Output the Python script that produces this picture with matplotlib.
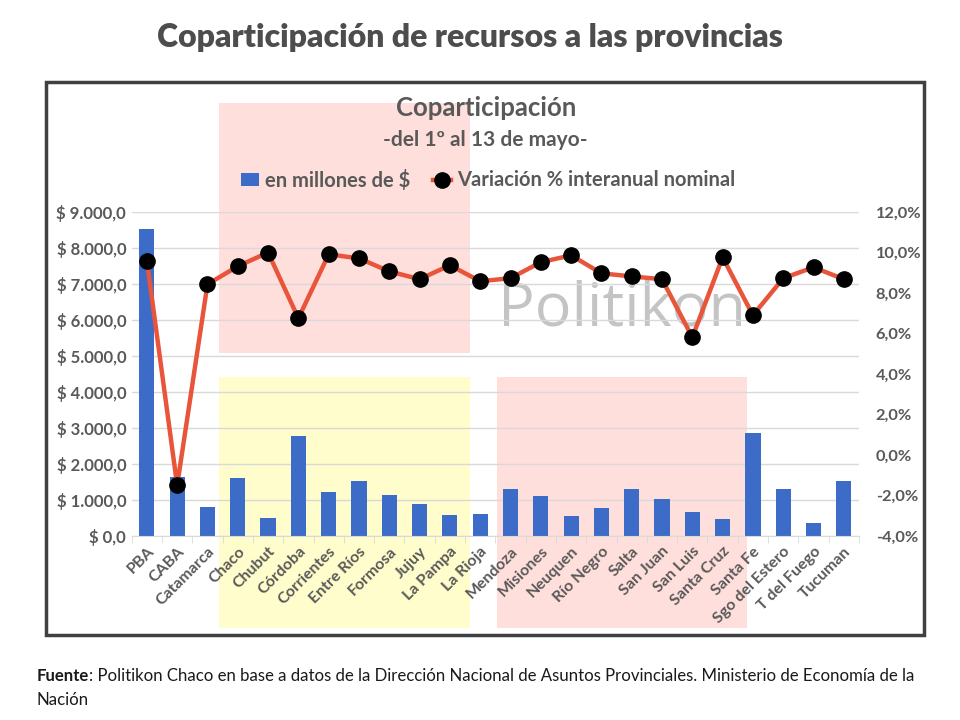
import matplotlib
matplotlib.use("Agg")
import matplotlib.pyplot as plt
import numpy as np
from matplotlib.patches import Rectangle, Patch
from matplotlib.lines import Line2D
from matplotlib.ticker import FuncFormatter, FixedLocator

provincias = ["PBA", "CABA", "Catamarca", "Chaco", "Chubut", "Córdoba",
              "Corrientes", "Entre Ríos", "Formosa", "Jujuy", "La Pampa",
              "La Rioja", "Mendoza", "Misiones", "Neuquen", "Río Negro",
              "Salta", "San Juan", "San Luis", "Santa Cruz", "Santa Fe",
              "Sgo del Estero", "T del Fuego", "Tucuman"]
millones = [8520, 1640, 806, 1620, 500, 2780, 1220, 1530, 1140, 890, 580,
            610, 1310, 1110, 560, 780, 1310, 1030, 670, 480, 2860, 1310,
            360, 1530]
variacion = [9.6, -1.5, 8.43, 9.32, 10.0, 6.75, 9.91, 9.71, 9.07, 8.68,
             9.37, 8.58, 8.73, 9.52, 9.86, 8.97, 8.82, 8.68, 5.81, 9.76,
             6.9, 8.73, 9.27, 8.68]

GRAY = "#595959"
W, H = 960, 720


def fx(px):
    return px / W


def fy(py):
    return 1 - py / H


def pesos(v, _):
    s = f"{v:,.1f}".replace(",", "X").replace(".", ",").replace("X", ".")
    return "$ " + s


def pct(v, _):
    return f"{v:.1f}%".replace(".", ",")


def main():
    plt.rcParams["font.family"] = ["Lato", "DejaVu Sans"]
    fig = plt.figure(figsize=(9.6, 7.2), dpi=100)

    # shaded regions behind the chart
    for (x0, y0, x1, y1, c) in [(219, 103, 470, 353, "#FFDFDC"),
                                (219, 377, 470, 628, "#FFFDCB"),
                                (497, 377, 747, 628, "#FFDFDC")]:
        fig.add_artist(Rectangle((fx(x0), fy(y1)), fx(x1 - x0),
                                 (y1 - y0) / H, transform=fig.transFigure,
                                 facecolor=c, edgecolor="none", zorder=-2))
    fig.text(fx(622), fy(309), "Politikon", fontsize=44, color="#C4C4C4",
             ha="center", va="center", family="Open Sans", zorder=-1)

    # outer frame
    fig.add_artist(Rectangle((fx(46), fy(635)), fx(878), 553 / H,
                             transform=fig.transFigure, fill=False,
                             edgecolor="#404040", linewidth=2.5))

    ax = fig.add_axes([fx(131.7), fy(536), fx(859 - 131.7), 324 / H])
    ax.set_facecolor("none")
    x = np.arange(len(provincias))
    ax.bar(x, millones, width=0.5, color="#3D6BC8", zorder=2)
    ax.set_xlim(-0.5, len(provincias) - 0.5)
    ax.set_ylim(0, 9000)
    ax.set_yticks(np.arange(0, 9001, 1000))
    ax.yaxis.set_major_formatter(FuncFormatter(pesos))
    ax.grid(axis="y", color="#D9D9D9", linewidth=1, zorder=0)
    ax.set_axisbelow(True)
    for s in ["top", "left", "right"]:
        ax.spines[s].set_visible(False)
    ax.spines["bottom"].set_color("#D9D9D9")
    ax.set_xticks(x)
    ax.set_xticklabels(provincias, rotation=45, ha="right",
                       rotation_mode="anchor", fontsize=11.5,
                       fontweight="bold", color=GRAY)
    ax.xaxis.set_minor_locator(FixedLocator(np.arange(-0.5, len(x), 1)))
    ax.tick_params(axis="x", which="major", length=0, pad=6)
    ax.tick_params(axis="x", which="minor", length=5, color="#D9D9D9")
    ax.tick_params(axis="y", length=0, labelsize=12, labelcolor=GRAY,
                   pad=4)
    for t in ax.get_yticklabels():
        t.set_fontweight("bold")

    ax2 = ax.twinx()
    ax2.plot(x, variacion, color="#E8553A", linewidth=3.2, marker="o",
             markersize=11, markerfacecolor="black",
             markeredgecolor="black", zorder=3)
    ax2.set_ylim(-4, 12)
    ax2.set_yticks(np.arange(-4, 12.1, 2))
    ax2.yaxis.set_major_formatter(FuncFormatter(pct))
    for s in ax2.spines.values():
        s.set_visible(False)
    ax2.tick_params(axis="y", length=0, labelsize=11.8, labelcolor=GRAY,
                    pad=12)
    for t in ax2.get_yticklabels():
        t.set_fontweight("bold")

    # titles
    fig.text(fx(470), fy(38), "Coparticipación de recursos a las provincias",
             fontsize=23, fontweight="heavy", color="#4D4D4D", ha="center",
             va="center")
    fig.text(fx(486), fy(108), "Coparticipación", fontsize=18.5,
             fontweight="bold", color=GRAY, ha="center", va="center")
    fig.text(fx(485), fy(140), "-del 1º al 13 de mayo-", fontsize=15,
             fontweight="bold", color=GRAY, ha="center", va="center")

    handles = [Patch(facecolor="#3D6BC8"),
               Line2D([], [], color="#E8553A", linewidth=3.2, marker="o",
                      markersize=11, markerfacecolor="black",
                      markeredgecolor="black")]
    fig.legend(handles, ["en millones de $",
                         "Variación % interanual nominal"],
               loc="center", bbox_to_anchor=(fx(488), fy(180)), ncol=2,
               frameon=False, handlelength=0.9, handleheight=0.6,
               columnspacing=1.1, handletextpad=0.3,
               prop={"size": 14.5, "weight": "bold"}, labelcolor=GRAY)

    # footer
    r = fig.canvas.get_renderer()
    t1 = fig.text(fx(37), fy(676), "Fuente", fontsize=12.1,
                  fontweight="bold", color="#1A1A1A", va="center")
    bb = t1.get_window_extent(renderer=r)
    fig.text(bb.x1 / W, fy(676),
             ": Politikon Chaco en base a datos de la Dirección Nacional de "
             "Asuntos Provinciales. Ministerio de Economía de la",
             fontsize=12.1, color="#1A1A1A", va="center")
    fig.text(fx(37), fy(700), "Nación", fontsize=12.1, color="#1A1A1A",
             va="center")

    fig.savefig("out.png", dpi=100, facecolor="white")


if __name__ == "__main__":
    main()
